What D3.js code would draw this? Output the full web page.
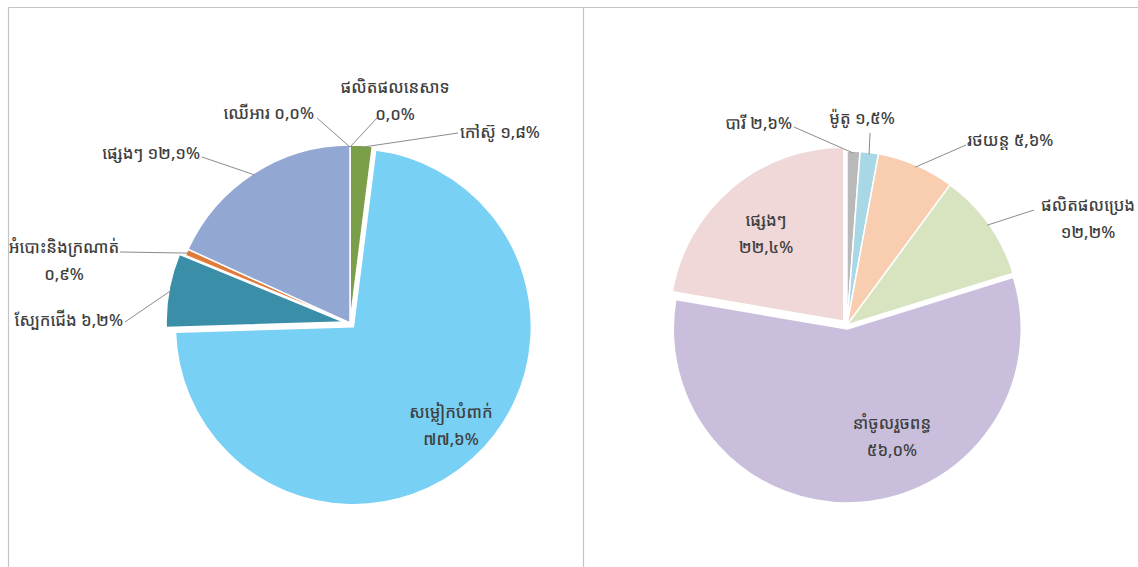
<!DOCTYPE html>
<html>
<head>
<meta charset="utf-8">
<script src="https://cdn.jsdelivr.net/npm/d3@7"></script>
<style>
  html, body { margin: 0; padding: 0; background: #fff; }
  svg { display: block; }
  text { font-family: "Noto Sans Khmer", "Khmer OS", "Khmer OS System", "Noto Sans", "DejaVu Sans", sans-serif; fill: #3f3f3f; font-size: 16.5px; font-weight: 500; }
</style>
</head>
<body>
<svg id="chart" width="1138" height="567"></svg>
<script>
// ---------- Left chart data (slice sizes read from the drawn wedges) ----------
const leftCategories = ["ឈើអារ", "ផលិតផលនេសាទ", "កៅស៊ូ", "សម្លៀកបំពាក់", "ស្បែកជើង", "អំបោះនិងក្រណាត់", "ផ្សេងៗ"];
const leftValues = [0, 0, 2.0, 72.5, 6.7, 0.6, 18.2];
const leftLabels = ["០,០%", "០,០%", "១,៨%", "៧៧,៦%", "៦,២%", "០,៩%", "១២,១%"];

// ---------- Right chart data ----------
const rightCategories = ["បារី", "ម៉ូតូ", "រថយន្ត", "ផលិតផលប្រេង", "នាំចូលរួចពន្ធ", "ផ្សេងៗ"];
const rightValues = [1.2, 1.7, 7.2, 10.1, 57.5, 22.3];
const rightLabels = ["២,៦%", "១,៥%", "៥,៦%", "១២,២%", "៥៦,០%", "២២,៤%"];

// ---------- Styles ----------
const leftColors = ["#8c8c8c", "#5b9bd5", "#7b9f48", "#78d0f5", "#3b8ea8", "#e07b39", "#93a7d3"];
const rightColors = ["#b9b9b9", "#a8d8e6", "#f9cdb0", "#d8e3c0", "#c9bfdc", "#f0d7d8"];

// Label layout (relative to pie centre): text position, anchor, two-line flag, leader start
const leftLayout = [
  { dx: -36, dy: -210, anchor: "end",    lines: 1, lx: -33, ly: -205 },
  { dx: 45,  dy: -236, anchor: "middle", lines: 2, lx: 27,  ly: -205 },
  { dx: 110, dy: -191, anchor: "start",  lines: 1, lx: 108, ly: -190 },
  { dx: 101, dy: 89,   anchor: "middle", lines: 2, lx: null },
  { dx: -227, dy: -3,  anchor: "end",    lines: 1, lx: -225, ly: -1 },
  { dx: -286, dy: -76, anchor: "middle", lines: 2, lx: -230, ly: -71 },
  { dx: -150, dy: -170, anchor: "end",   lines: 1, lx: -148, ly: -166 }
];
const rightLayout = [
  { dx: -55, dy: -202, anchor: "end",    lines: 1, lx: -53, ly: -198 },
  { dx: 15,  dy: -207, anchor: "middle", lines: 1, lx: 23,  ly: -192 },
  { dx: 120, dy: -185, anchor: "start",  lines: 1, lx: 119, ly: -180 },
  { dx: 241, dy: -120, anchor: "middle", lines: 2, lx: 187, ly: -115 },
  { dx: 45,  dy: 98,   anchor: "middle", lines: 2, lx: null },
  { dx: -81, dy: -105, anchor: "middle", lines: 2, lx: null }
];
const leftExplode = [0, 0, 0, 5, 6, 0, 0];
const rightExplode = [0, 0, 0, 0, 4, 5];

const svg = d3.select("#chart");

// frame lines
const frame = svg.append("g").attr("stroke", "#c4c4c4").attr("stroke-width", 1.2);
frame.append("line").attr("x1", 8.5).attr("x2", 1138).attr("y1", 7.5).attr("y2", 7.5);
frame.append("line").attr("x1", 8.5).attr("x2", 8.5).attr("y1", 7.5).attr("y2", 567);
frame.append("line").attr("x1", 583.5).attr("x2", 583.5).attr("y1", 7.5).attr("y2", 567);

function drawPie(cx, cy, r, cats, vals, labels, colors, layout, explode) {
  const g = svg.append("g").attr("transform", `translate(${cx},${cy})`);
  const pie = d3.pie().sort(null).value(d => d.v);
  const data = cats.map((c, i) => ({ c, v: vals[i], lab: labels[i], col: colors[i], lay: layout[i], ex: explode[i] }));
  const arcs = pie(data);
  const arc = d3.arc().innerRadius(0).outerRadius(r);

  const off = a => {
    const m = (a.startAngle + a.endAngle) / 2;
    return [Math.sin(m) * a.data.ex, -Math.cos(m) * a.data.ex];
  };

  g.selectAll("path.slice").data(arcs.filter(a => a.data.v > 0)).join("path")
    .attr("class", "slice")
    .attr("d", arc)
    .attr("transform", a => { const o = off(a); return `translate(${o[0]},${o[1]})`; })
    .attr("fill", a => a.data.col)
    .attr("stroke", "#fff")
    .attr("stroke-width", 1.5);

  // leader lines
  g.selectAll("line.leader").data(arcs.filter(a => a.data.lay.lx !== null)).join("line")
    .attr("class", "leader")
    .attr("x1", a => a.data.lay.lx)
    .attr("y1", a => a.data.lay.ly)
    .attr("x2", a => { const m = (a.startAngle + a.endAngle) / 2; return Math.sin(m) * (r - 2) + off(a)[0]; })
    .attr("y2", a => { const m = (a.startAngle + a.endAngle) / 2; return -Math.cos(m) * (r - 2) + off(a)[1]; })
    .attr("stroke", "#8c8c8c")
    .attr("stroke-width", 1);

  // labels
  arcs.forEach(a => {
    const L = a.data.lay;
    const t = g.append("text")
      .attr("text-anchor", L.anchor)
      .attr("x", L.dx)
      .attr("y", L.dy)
      .attr("dy", "0.35em");
    if (L.lines === 2) {
      t.append("tspan").attr("x", L.dx).text(a.data.c);
      t.append("tspan").attr("x", L.dx).attr("dy", 27).text(a.data.lab);
    } else {
      t.text(a.data.c + " " + a.data.lab);
    }
  });
}

drawPie(350, 323, 178, leftCategories, leftValues, leftLabels, leftColors, leftLayout, leftExplode);
drawPie(847, 325, 174, rightCategories, rightValues, rightLabels, rightColors, rightLayout, rightExplode);
</script>
</body>
</html>
